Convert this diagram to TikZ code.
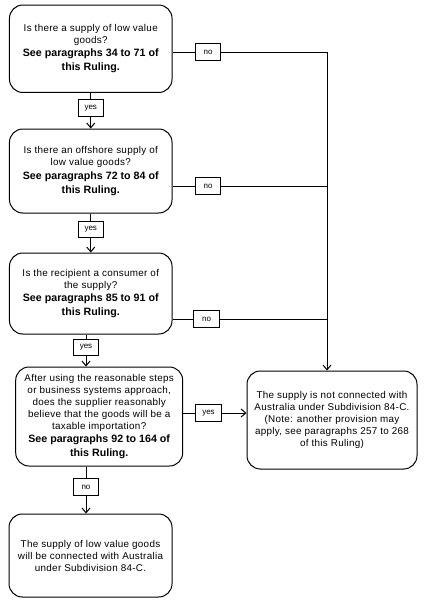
\documentclass[tikz,border=0pt]{standalone}
\usepackage{fontspec}
\setmainfont{Liberation Sans}
\newfontfamily\spacedfont[LetterSpace=3]{Liberation Sans}
\usepackage{tikz}
\usetikzlibrary{arrows.meta}

\tikzset{
  qbox/.style={draw, line width=0.75pt, rounded corners=10pt, align=center, inner sep=0pt, font=\spacedfont\fontsize{7.4}{9}\selectfont},
  lbl/.style={draw, fill=white, line width=0.75pt, inner sep=0pt, minimum width=19pt, minimum height=12.5pt, font=\fontsize{6}{6}\selectfont},
  link/.style={line width=0.75pt},
  arr/.style={link, -{Straight Barb[length=3.5pt,width=6pt]}}
}
\newcommand{\seepara}[1]{{\normalfont\fontsize{8}{10}\selectfont\bfseries #1}}

\begin{document}
\begin{tikzpicture}[x=0.75pt,y=0.75pt,yscale=-1,xscale=1]
        \useasboundingbox (0,0) rectangle (430,608);

        % Question boxes
        \node [qbox, minimum width=121.9pt, minimum height=65.6pt] (q1) at (90.75,48.75) {Is there a supply of low value\\goods?\\[1pt]\seepara{See paragraphs 34 to 71 of}\\[1.5pt]\seepara{this Ruling.}};
        \node [qbox, minimum width=121.9pt, minimum height=63pt] (q2) at (90.75,171) {Is there an offshore supply of\\low value goods?\\[1pt]\seepara{See paragraphs 72 to 84 of}\\[1.5pt]\seepara{this Ruling.}};
        \node [qbox, minimum width=121.9pt, minimum height=60.75pt] (q3) at (90.75,293.5) {Is the recipient a consumer of\\the supply?\\[1pt]\seepara{See paragraphs 85 to 91 of}\\[1.5pt]\seepara{this Ruling.}};
        \node [qbox, minimum width=125.25pt, minimum height=74.25pt] (q4) at (99.2,416.5) {After using the reasonable steps\\or business systems approach,\\does the supplier reasonably\\believe that the goods will be a\\taxable importation?\\[1pt]\seepara{See paragraphs 92 to 164 of}\\[1.5pt]\seepara{this Ruling.}};

        % Result boxes
        \node [qbox, minimum width=127.5pt, minimum height=73.5pt] (notconn) at (332,420) {The supply is not connected with\\Australia under Subdivision 84-C.\\(Note: another provision may\\apply, see paragraphs 257 to 268\\of this Ruling)};
        \node [qbox, minimum width=122.25pt, minimum height=62.25pt] (conn) at (90.5,555.5) {The supply of low value goods\\will be connected with Australia\\under Subdivision 84-C.};

        % Junctions on the right-hand line
        \coordinate (j1) at (327,52);
        \coordinate (j2) at (327,186);
        \coordinate (j3) at (327,319);
        \coordinate (c4) at (86,0);
        \coordinate (y4) at (0,413);

        % yes connectors
        \draw [arr] (q1.south) -- node [lbl, pos=0.42] {yes} (q2.north);
        \draw [arr] (q2.south) -- node [lbl, pos=0.41] {yes} (q3.north);
        \draw [arr] (q3.south -| c4) -- node [lbl, pos=0.41] {yes} (q4.north -| c4);
        \draw [arr] (q4.east |- y4) -- node [lbl, pos=0.4] {yes} (notconn.west |- y4);

        % no connectors
        \draw [arr] (q1.east |- j1) -- node [lbl, pos=0.23] {no} (j1) -- (notconn.north -| j1);
        \draw [link] (q2.east |- j2) -- node [lbl, pos=0.23] {no} (j2);
        \draw [link] (q3.east |- j3) -- node [lbl, pos=0.22] {no} (j3);
        \draw [arr] (q4.south -| c4) -- node [lbl, pos=0.44] {no} (conn.north -| c4);

\end{tikzpicture}
\end{document}
